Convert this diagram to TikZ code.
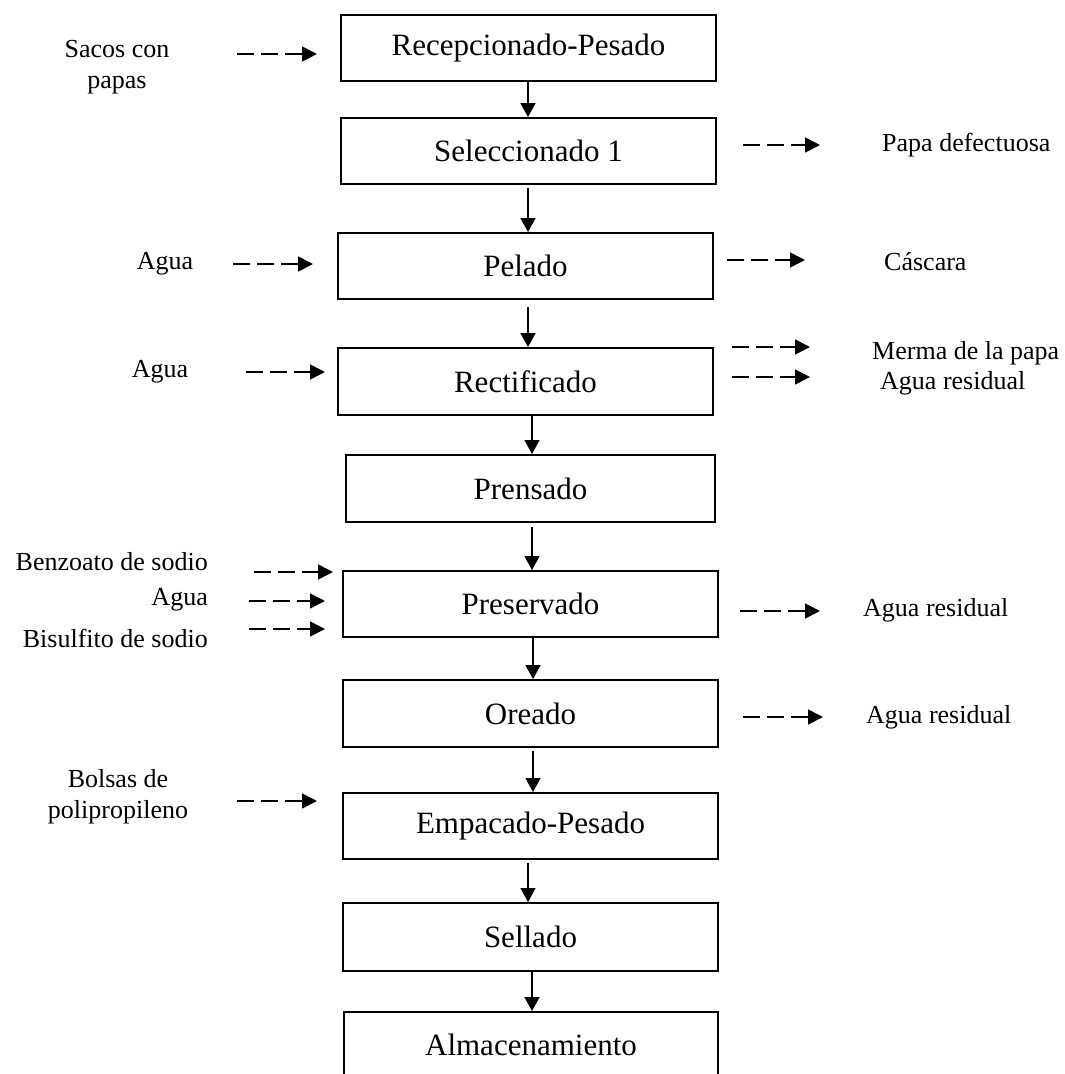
\documentclass[tikz,border=0pt]{standalone}
\usepackage{fontspec}
\setmainfont{Liberation Serif}
\usetikzlibrary{arrows.meta}
\begin{document}
\begin{tikzpicture}[x=1pt,y=-1pt,
  stepbox/.style={draw, line width=2pt, inner sep=0pt, minimum width=375pt, minimum height=66pt, font=\fontsize{31}{37}\selectfont},
  lbl/.style={inner sep=0pt, font=\fontsize{26}{31}\selectfont, align=center},
  flow/.style={line width=1.7pt, -{Triangle[length=14pt,width=15pt]}},
  feed/.style={line width=1.7pt, dash pattern=on 17pt off 7pt, -{Triangle[length=15pt,width=15pt]}}]
\useasboundingbox (0,0) rectangle (1065,1074);
\clip (0,0) rectangle (1065,1074);
% process boxes
\node[stepbox] (b1) at (528.5,48) {Recepcionado-Pesado};
\node[stepbox] (b2) at (528.5,151) {Seleccionado 1};
\node[stepbox] (b3) at (525.5,266) {Pelado};
\node[stepbox, minimum height=67pt] (b4) at (525.5,381.5) {Rectificado};
\node[stepbox, minimum width=369pt, minimum height=67pt] (b5) at (530.5,488.5) {Prensado};
\node[stepbox] (b6) at (530.5,604) {Preservado};
\node[stepbox, minimum height=67pt] (b7) at (530.5,713.5) {Oreado};
\node[stepbox] (b8) at (530.5,826) {Empacado-Pesado};
\node[stepbox, minimum height=68pt] (b9) at (530.5,937) {Sellado};
\node[stepbox, minimum width=374pt] (b10) at (531,1045) {Almacenamiento};
% main flow
\draw[flow] (b1.south -| 528,0) -- (b2.north -| 528,0);
\draw[flow] (b2.south -| 528,0) ++(0,3) -- (b3.north -| 528,0);
\draw[flow] (b3.south -| 528,0) ++(0,7) -- (b4.north -| 528,0);
\draw[flow] (b4.south -| 532,0) -- (b5.north -| 532,0);
\draw[flow] (b5.south -| 532,0) ++(0,4) -- (b6.north -| 532,0);
\draw[flow] (b6.south -| 533,0) -- (b7.north -| 533,0);
\draw[flow] (b7.south -| 533,0) ++(0,3) -- (b8.north -| 533,0);
\draw[flow] (b8.south -| 528,0) ++(0,3) -- (b9.north -| 528,0);
\draw[flow] (b9.south -| 532,0) -- (b10.north -| 532,0);
% labels
\node[lbl] (sacos) at (117,67) {Sacos con\\papas};
\node[lbl, anchor=west] (papa) at (882,145) {Papa defectuosa};
\node[lbl] (agua1) at (165,264) {Agua};
\node[lbl, anchor=west] (cascara) at (884,262) {Cáscara};
\node[lbl] (agua2) at (160,372) {Agua};
\node[lbl, anchor=west] (merma) at (872,353) {Merma de la papa};
\node[lbl, anchor=west] (ares1) at (880,383) {Agua residual};
\node[lbl, anchor=east] (benz) at (208,562) {Benzoato de sodio};
\node[lbl, anchor=east] (agua3) at (208,600) {Agua};
\node[lbl, anchor=east] (bisul) at (208,638) {Bisulfito de sodio};
\node[lbl, anchor=west] (ares2) at (863,610) {Agua residual};
\node[lbl, anchor=west] (ares3) at (866,717) {Agua residual};
\node[lbl] (bolsas) at (118,797) {Bolsas de\\polipropileno};
% dashed arrow ends
\coordinate (s1) at (237,54);  \coordinate (e1) at (317,54);
\coordinate (s2) at (743,145); \coordinate (e2) at (820,145);
\coordinate (s3) at (233,264); \coordinate (e3) at (313,264);
\coordinate (s4) at (727,260); \coordinate (e4) at (805,260);
\coordinate (s5) at (246,372); \coordinate (e5) at (325,372);
\coordinate (s6) at (732,347); \coordinate (e6) at (810,347);
\coordinate (s7) at (732,377); \coordinate (e7) at (810,377);
\coordinate (s8) at (254,572); \coordinate (e8) at (333,572);
\coordinate (s9) at (249,601); \coordinate (e9) at (325,601);
\coordinate (s10) at (249,629); \coordinate (e10) at (325,629);
\coordinate (s11) at (740,611); \coordinate (e11) at (820,611);
\coordinate (s12) at (743,717); \coordinate (e12) at (823,717);
\coordinate (s13) at (237,801); \coordinate (e13) at (317,801);
\foreach \i in {1,...,13} { \draw[feed] (s\i) -- (e\i); }
\end{tikzpicture}
\end{document}
